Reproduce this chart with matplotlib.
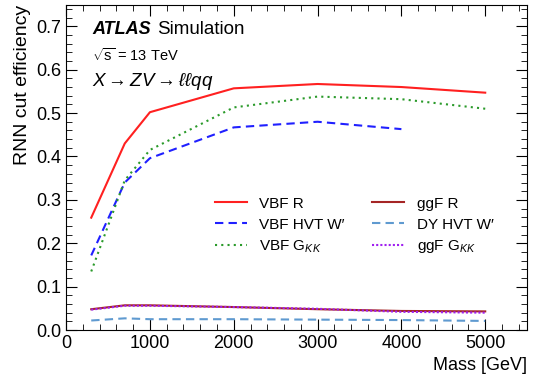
import matplotlib
matplotlib.use("Agg")
import matplotlib.pyplot as plt
from matplotlib.ticker import MultipleLocator

plt.rcParams['font.family'] = ['Liberation Sans', 'DejaVu Sans']
plt.rcParams['mathtext.fontset'] = 'custom'
plt.rcParams['mathtext.rm'] = 'Liberation Sans'
plt.rcParams['mathtext.it'] = 'Liberation Sans:italic'
plt.rcParams['mathtext.bf'] = 'Liberation Sans:bold'

mass = [300, 700, 1000, 2000, 3000, 4000, 5000]
mass_w = [300, 700, 1000, 2000, 3000, 4000]

vbf_r = [0.259, 0.430, 0.502, 0.557, 0.567, 0.560, 0.547]
vbf_hvt = [0.172, 0.340, 0.396, 0.467, 0.480, 0.463]
vbf_gkk = [0.135, 0.345, 0.415, 0.513, 0.538, 0.532, 0.510]
ggf_r = [0.048, 0.057, 0.057, 0.053, 0.048, 0.044, 0.043]
dy_hvt = [0.022, 0.027, 0.025, 0.025, 0.024, 0.023, 0.021]
ggf_gkk = [0.047, 0.056, 0.056, 0.053, 0.049, 0.042, 0.040]

fig = plt.figure(figsize=(5.33, 3.82), dpi=100)
ax = fig.add_axes([0.124, 0.136, 0.865, 0.852])

ax.plot(mass, vbf_r, color='#ff2020', lw=1.5, ls='-', label='VBF R')
ax.plot(mass_w, vbf_hvt, color='#2020ff', lw=1.5, ls=(0, (4, 2.5)), label='VBF HVT W\u2032')
ax.plot(mass, vbf_gkk, color='#2a9a2a', lw=1.5, ls=(0, (1, 2)), label='VBF G$_{KK}$')
ax.plot(mass, ggf_r, color='#a52525', lw=1.5, ls='-', label='ggF R')
ax.plot(mass, dy_hvt, color='#5f9ad0', lw=1.5, ls=(0, (4, 2.5)), label='DY HVT W\u2032')
ax.plot(mass, ggf_gkk, color='#a020f0', lw=1.5, ls=(0, (1, 1)), label='ggF G$_{KK}$')

ax.set_xlim(0, 5500)
ax.set_ylim(0, 0.75)
ax.xaxis.set_major_locator(MultipleLocator(1000))
ax.xaxis.set_minor_locator(MultipleLocator(200))
ax.yaxis.set_minor_locator(MultipleLocator(0.02))
ax.tick_params(which='both', direction='in', top=True, right=True, labelsize=13)
ax.tick_params(which='major', length=8)
ax.tick_params(which='minor', length=4)
ax.set_yticks([0.0, 0.1, 0.2, 0.3, 0.4, 0.5, 0.6, 0.7])
ax.set_yticklabels(['0.0', '0.1', '0.2', '0.3', '0.4', '0.5', '0.6', '0.7'])

ax.set_xlabel('Mass [GeV]', fontsize=13, loc='right')
ax.set_ylabel('RNN cut efficiency', fontsize=14, loc='top')

ax.text(0.056, 0.923, 'ATLAS', transform=ax.transAxes, fontsize=13, fontweight='bold', style='italic', va='center')
ax.text(0.197, 0.923, 'Simulation', transform=ax.transAxes, fontsize=13.5, va='center')
ax.text(0.056, 0.843, r'$\sqrt{\mathrm{s}}$ = 13 TeV', transform=ax.transAxes, fontsize=10.5, va='center')
ax.text(0.056, 0.765, r'$X \rightarrow ZV \rightarrow \ell\ell qq$', transform=ax.transAxes, fontsize=13.5, va='center')

ax.legend(ncol=2, frameon=False, fontsize=11, loc='upper left', bbox_to_anchor=(0.293, 0.452),
          handlelength=2.1, handletextpad=0.8, columnspacing=1.8, labelspacing=0.45)

fig.savefig('out.png', dpi=100)
